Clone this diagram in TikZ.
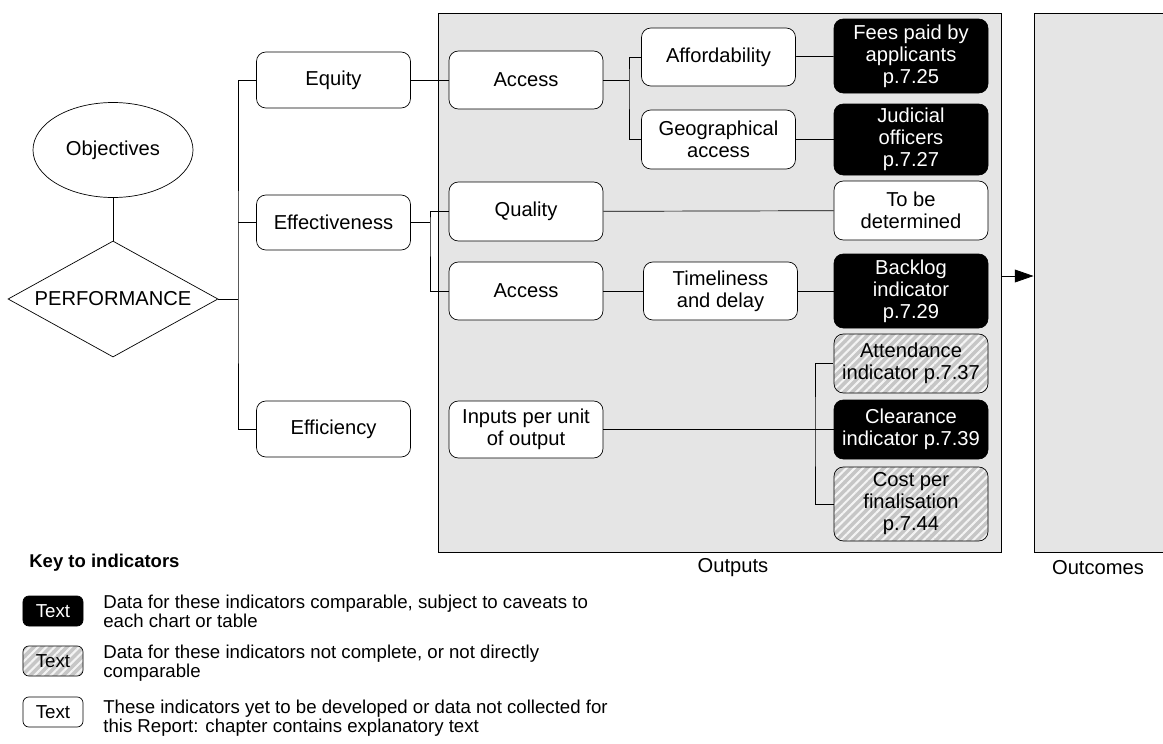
\documentclass[tikz,border=0pt]{standalone}
\usepackage{fontspec}
\setmainfont{Liberation Sans}
\usetikzlibrary{shapes.geometric,patterns.meta,arrows.meta}

\definecolor{framegray}{HTML}{E5E5E5}
\definecolor{hatchgray}{HTML}{C6C6C6}

\begin{document}
\begin{tikzpicture}[x=0.03cm,y=-0.03cm]
    \tikzstyle{every path}=[line width=0.6pt]
    \tikzstyle{every node}=[font=\fontsize{17.2}{18.8}\selectfont,inner sep=0pt]

    \tikzstyle{frame}=[draw,line width=0.8pt,fill=framegray,minimum height=16.17cm]
    \tikzstyle{pbox}=[draw,fill=white,rounded corners=8pt,align=center,
    minimum width=4.62cm,minimum height=1.74cm]
    \tikzstyle{solid}=[pbox,fill=black,text=white]
    \tikzstyle{hatched}=[pbox,fill=none,preaction={fill=hatchgray},
    pattern={Lines[angle=45,distance=5pt,line width=1.8pt]},pattern color=white!80!hatchgray]
    \tikzstyle{keybox}=[draw,rounded corners=5pt,minimum width=1.8cm,minimum height=0.9cm,
    font=\fontsize{16}{18}\selectfont]
    \tikzstyle{keytext}=[anchor=base west,align=left,font=\fontsize{15.9}{13.6}\selectfont]

    \useasboundingbox (0,0) rectangle (1163,743);

    %% Output and outcome frames
    \node [frame,minimum width=16.89cm] at (719.5,282.5) (outputs) {};
    \node [frame,minimum width=4.38cm] at (1107,282.5) (outcomes) {};
    \node at (733,568) (outputslbl) {Outputs};
    \node at (1098,568) (outcomeslbl) {Outcomes};
    \draw [-{Triangle[length=16pt,width=11pt]}] (outputs.east |- 0,276) -- (outcomes.west |- 0,276);

    %% Objectives and performance
    \node [draw,ellipse,minimum width=4.8cm,minimum height=2.85cm] at (113,150) (objectives) {Objectives};
    \node [draw,diamond,aspect=1.8,minimum width=6.3cm,minimum height=3.48cm] at (113,299) (perf) {PERFORMANCE};
    \draw (objectives) -- (perf);

    %% First level
    \node [pbox,minimum height=1.68cm] at (333.5,80) (equity) {Equity};
    \node [pbox,minimum height=1.65cm] at (333.5,222.5) (effect) {Effectiveness};
    \node [pbox,minimum height=1.68cm] at (333.5,429) (effic) {Efficiency};
    \coordinate (spine) at (238,299);
    \draw (perf) -- (spine);
    \draw (equity.west) -| (spine) |- (effic.west);
    \draw (spine |- effect.west) -- (effect.west);

    %% Second level
    \node [pbox] at (526,80) (accessA) {Access};
    \node [pbox,minimum height=1.77cm] at (526,211.5) (quality) {Quality};
    \node [pbox] at (526,291) (accessB) {Access};
    \node [pbox,minimum height=1.71cm] at (526,429.5) (inputs) {Inputs per unit\\of output};
    \draw (equity) -- (accessA);
    \coordinate (effsplit) at (430,222.5);
    \draw (effect) -- (effsplit);
    \draw (quality.west) -| (effsplit) |- (accessB.west);

    %% Third level
    \node [pbox] at (718.5,57) (afford) {Affordability};
    \node [pbox,minimum height=1.77cm] at (718.5,139.5) (geo) {Geographical\\access};
    \node [pbox] at (720.5,291) (timely) {Timeliness\\and delay};
    \coordinate (accsplit) at (629,80);
    \draw (accessA) -- (accsplit);
    \draw (afford.west) -| (accsplit) |- (geo.west);
    \draw (accessB) -- (timely);

    %% Indicators
    \node [solid,minimum height=2.22cm] at (911,56) (fees) {Fees paid by\\applicants\\p.7.25};
    \node [solid,minimum height=2.13cm] at (911,139.5) (judicial) {Judicial\\officers\\p.7.27};
    \node [pbox,minimum height=1.77cm] at (911,210.5) (tbd) {To be\\determined};
    \node [solid,minimum height=2.22cm] at (911,291) (backlog) {Backlog\\indicator\\p.7.29};
    \node [hatched,minimum height=1.77cm] at (911,363.5) (attend) {Attendance\\indicator p.7.37};
    \node [solid,minimum height=1.77cm] at (911,429.5) (clear) {Clearance\\indicator p.7.39};
    \node [hatched,minimum height=2.22cm] at (911,504) (cost) {Cost per\\finalisation\\p.7.44};
    \draw (afford) -- (fees);
    \draw (geo) -- (judicial);
    \draw (quality) -- (tbd);
    \draw (timely) -- (backlog);
    \draw (inputs) -- (clear);
    \coordinate (insplit) at (815,429.5);
    \draw (attend.west) -| (insplit) |- (cost.west);

    %% Key to indicators
    \node [anchor=base west,font=\fontsize{15.8}{18}\bfseries] at (29,567) (keyhead) {Key to indicators};
    \node [keybox,fill=black,text=white] at (53,611) (keyblack) {Text};
    \node [keybox,fill=none,preaction={fill=hatchgray},
    pattern={Lines[angle=45,distance=5pt,line width=1.8pt]},pattern color=white!80!hatchgray] at (53,661) (keyhatch) {Text};
    \node [keybox,fill=white] at (53,712) (keywhite) {Text};
    \node [keytext] at (103,627) (keytxtA) {Data for these indicators comparable, subject to caveats to\\each chart or table};
    \node [keytext] at (103,677) (keytxtB) {Data for these indicators not complete, or not directly\\comparable};
    \node [keytext] at (103,732) (keytxtC) {These indicators yet to be developed or data not collected for\\this Report: chapter contains explanatory text};
\end{tikzpicture}
\end{document}
